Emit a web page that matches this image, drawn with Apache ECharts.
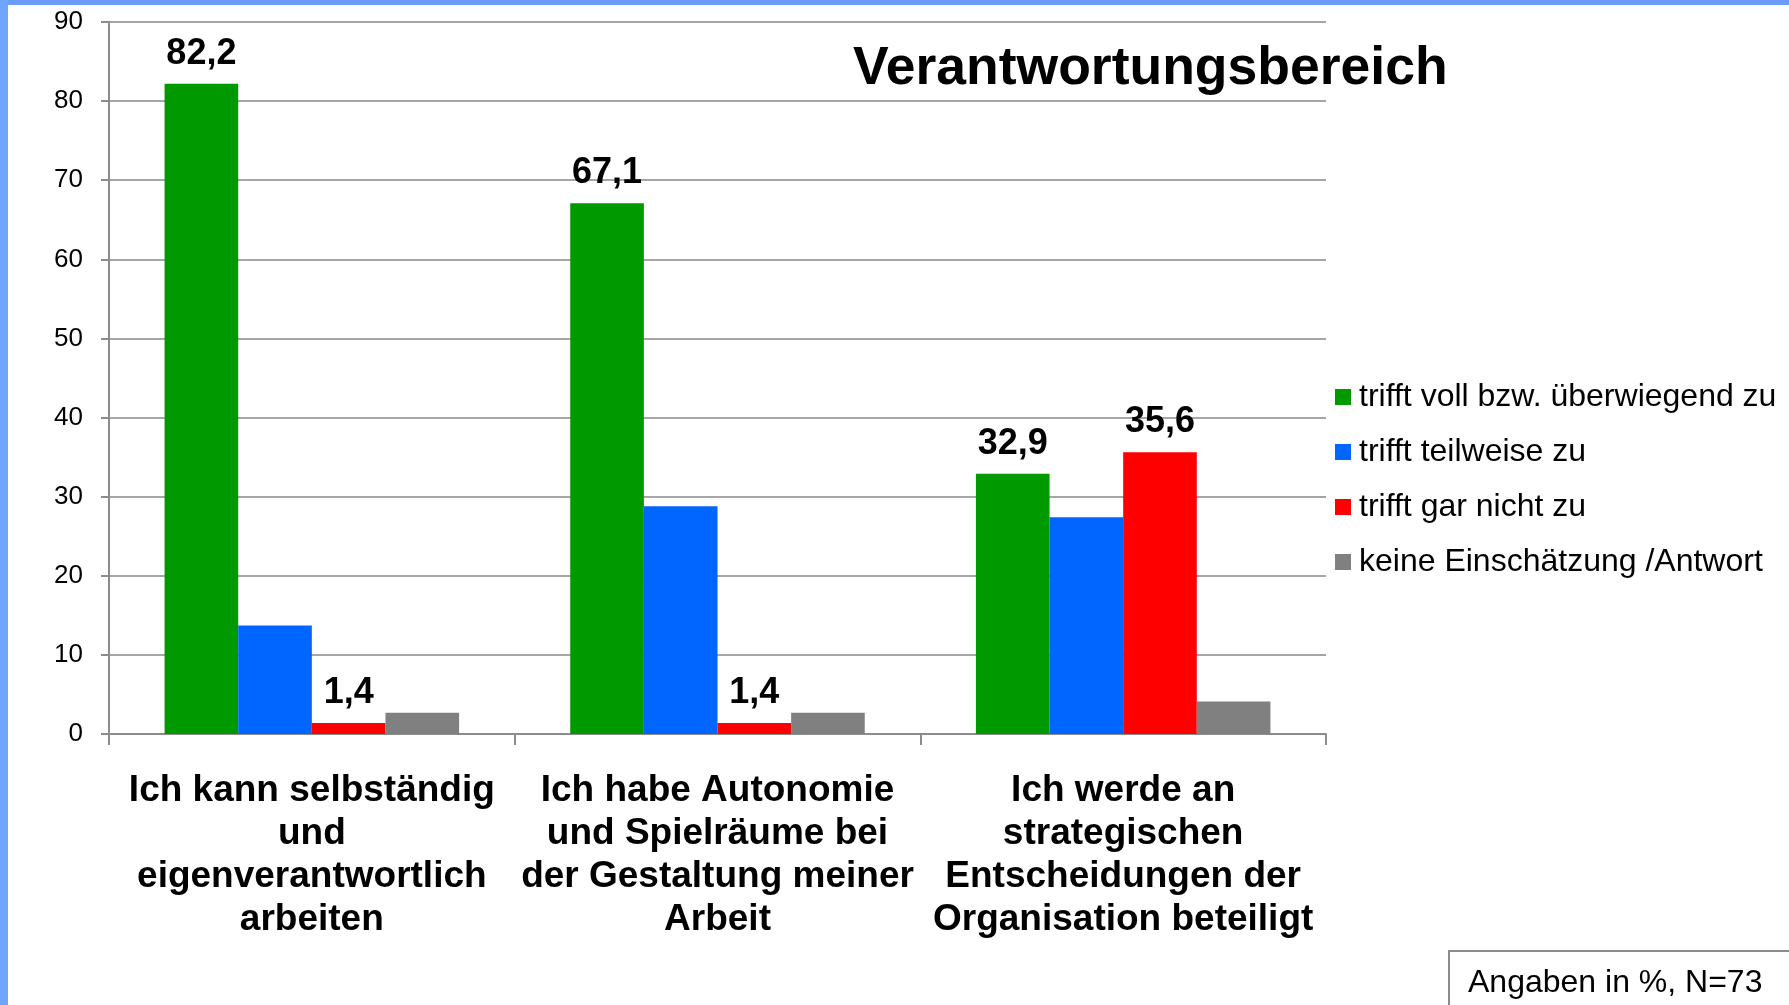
<!DOCTYPE html>
<html>
<head>
<meta charset="utf-8">
<script src="https://cdn.jsdelivr.net/npm/echarts@6/dist/echarts.min.js"></script>
<style>
  html, body { margin: 0; padding: 0; background: #fff; }
  #main { width: 1789px; height: 1005px; }
</style>
</head>
<body>
<div id="main"></div>
<script>
// Daten (Angaben in %, N=73)
var categories = [
  'Ich kann selbständig\nund\neigenverantwortlich\narbeiten',
  'Ich habe Autonomie\nund Spielräume bei\nder Gestaltung meiner\nArbeit',
  'Ich werde an\nstrategischen\nEntscheidungen der\nOrganisation beteiligt'
];
var seriesNames = ['trifft voll bzw. überwiegend zu', 'trifft teilweise zu', 'trifft gar nicht zu', 'keine Einschätzung /Antwort'];
var vollZu = [82.2, 67.1, 32.9];
var teilweiseZu = [13.7, 28.8, 27.4];
var garNichtZu = [1.4, 1.4, 35.6];
var keineAntwort = [2.7, 2.7, 4.1];
var colors = ['#009900', '#0066ff', '#ff0000', '#808080'];
var yTicks = { min: 0, max: 90, interval: 10 };

var font = '"Liberation Sans", Arial, sans-serif';

function fmt(p) { return String(p.value).replace('.', ','); }

function bar(name, data, color, showLabel) {
  return {
    name: name,
    type: 'bar',
    data: data,
    barGap: '0%',
    barCategoryGap: '27.4%',
    itemStyle: { color: color },
    label: {
      show: showLabel,
      position: 'top',
      distance: 12,
      formatter: fmt,
      fontFamily: font,
      fontSize: 36,
      fontWeight: 'bold',
      color: '#000'
    }
  };
}

var myChart = echarts.init(document.getElementById('main'));

option = {
  animation: false,
  backgroundColor: '#fff',
  color: colors,
  title: {
    text: 'Verantwortungsbereich',
    left: 848,
    top: 37,
    textStyle: { fontFamily: font, fontSize: 53.5, fontWeight: 'bold', color: '#000' }
  },
  legend: {
    orient: 'vertical',
    left: 1330,
    top: 376,
    itemWidth: 16,
    itemHeight: 16,
    itemGap: 23,
    icon: 'rect',
    selectedMode: false,
    data: seriesNames,
    textStyle: { fontFamily: font, fontSize: 32, lineHeight: 31, color: '#000', padding: [0, 0, 0, 3] }
  },
  grid: { left: 109, right: 463, top: 22, bottom: 271 },
  xAxis: {
    type: 'category',
    data: categories,
    axisLine: { lineStyle: { color: '#8c8c8c', width: 2 } },
    axisTick: { show: true, length: 11, lineStyle: { color: '#8c8c8c', width: 2 } },
    axisLabel: {
      interval: 0,
      margin: 35,
      fontFamily: font,
      fontSize: 37,
      fontWeight: 'bold',
      lineHeight: 43,
      color: '#000',
      align: 'center'
    }
  },
  yAxis: {
    type: 'value',
    min: yTicks.min,
    max: yTicks.max,
    interval: yTicks.interval,
    axisLine: { show: true, lineStyle: { color: '#8c8c8c', width: 2 } },
    axisTick: { show: true, length: 8, lineStyle: { color: '#8c8c8c', width: 2 } },
    splitLine: { lineStyle: { color: '#a6a6a6', width: 2 } },
    axisLabel: { margin: 26, fontFamily: font, fontSize: 26, color: '#000' }
  },
  series: [
    bar(seriesNames[0], vollZu, colors[0], true),
    bar(seriesNames[1], teilweiseZu, colors[1], false),
    bar(seriesNames[2], garNichtZu, colors[2], true),
    bar(seriesNames[3], keineAntwort, colors[3], false)
  ],
  graphic: [
    // blauer Folienrand
    { type: 'rect', left: 0, top: 0, shape: { width: 1789, height: 5 }, style: { fill: '#6b9cfc' }, z: 100 },
    { type: 'rect', left: 0, top: 0, shape: { width: 8, height: 1005 }, style: { fill: '#6ea5ff' }, z: 100 },
    // Hinweisbox unten rechts
    { type: 'rect', left: 1448, top: 950, shape: { width: 400, height: 100 },
      style: { fill: '#fff', stroke: '#8c8c8c', lineWidth: 2 }, z: 50 },
    { type: 'text', left: 1468, top: 967, z: 51,
      style: { text: 'Angaben in %, N=73', font: '32px ' + font, fill: '#000' } }
  ]
};

myChart.setOption(option);
</script>
</body>
</html>
